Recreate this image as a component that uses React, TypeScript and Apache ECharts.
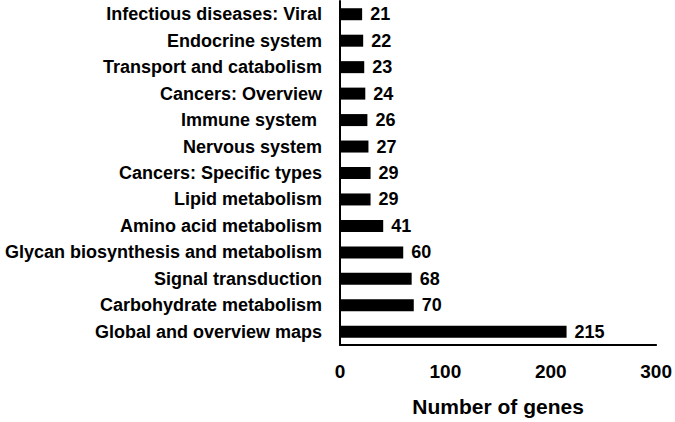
import React, { useEffect, useRef } from "react";
import * as echarts from "echarts";

const categories = [
  "Global and overview maps",
  "Carbohydrate metabolism",
  "Signal transduction",
  "Glycan biosynthesis and metabolism",
  "Amino acid metabolism",
  "Lipid metabolism",
  "Cancers: Specific types",
  "Nervous system",
  "Immune system ",
  "Cancers: Overview",
  "Transport and catabolism",
  "Endocrine system",
  "Infectious diseases: Viral",
];
const values = [215, 70, 68, 60, 41, 29, 29, 27, 26, 24, 23, 22, 21];
const xTicks = [0, 100, 200, 300];

export default function App() {
  const ref = useRef<HTMLDivElement>(null);
  useEffect(() => {
    if (!ref.current) return;
    const chart = echarts.init(ref.current, null, { renderer: "svg" });
    const font = "Liberation Sans, Arial, sans-serif";
    chart.setOption({
      animation: false,
      grid: { left: 340, right: 18, top: 1, bottom: 76, containLabel: false },
      xAxis: {
        type: "value",
        min: xTicks[0],
        max: xTicks[xTicks.length - 1],
        interval: 100,
        name: "Number of genes",
        nameLocation: "middle",
        nameGap: 51,
        nameTextStyle: { fontFamily: font, fontWeight: "bold", fontSize: 21, color: "#000" },
        axisLine: { show: true, lineStyle: { color: "#000", width: 2 } },
        axisTick: { show: false },
        splitLine: { show: false },
        axisLabel: { margin: 17, fontFamily: font, fontWeight: "bold", fontSize: 19, color: "#000" },
      },
      yAxis: {
        type: "category",
        data: categories,
        axisLine: { show: true, lineStyle: { color: "#000", width: 2 } },
        axisTick: { show: false },
        axisLabel: { margin: 18, fontFamily: font, fontWeight: "bold", fontSize: 18, color: "#000" },
      },
      series: [
        {
          type: "bar",
          data: values,
          barWidth: 12,
          itemStyle: { color: "#000" },
          label: {
            show: true,
            position: "right",
            distance: 8,
            fontFamily: font,
            fontWeight: "bold",
            fontSize: 18,
            color: "#000",
          },
        },
      ],
    });
    return () => chart.dispose();
  }, []);
  return (
    <div
      ref={ref}
      style={{ position: "fixed", left: 0, top: 0, width: 675, height: 422, background: "#fff" }}
    />
  );
}
